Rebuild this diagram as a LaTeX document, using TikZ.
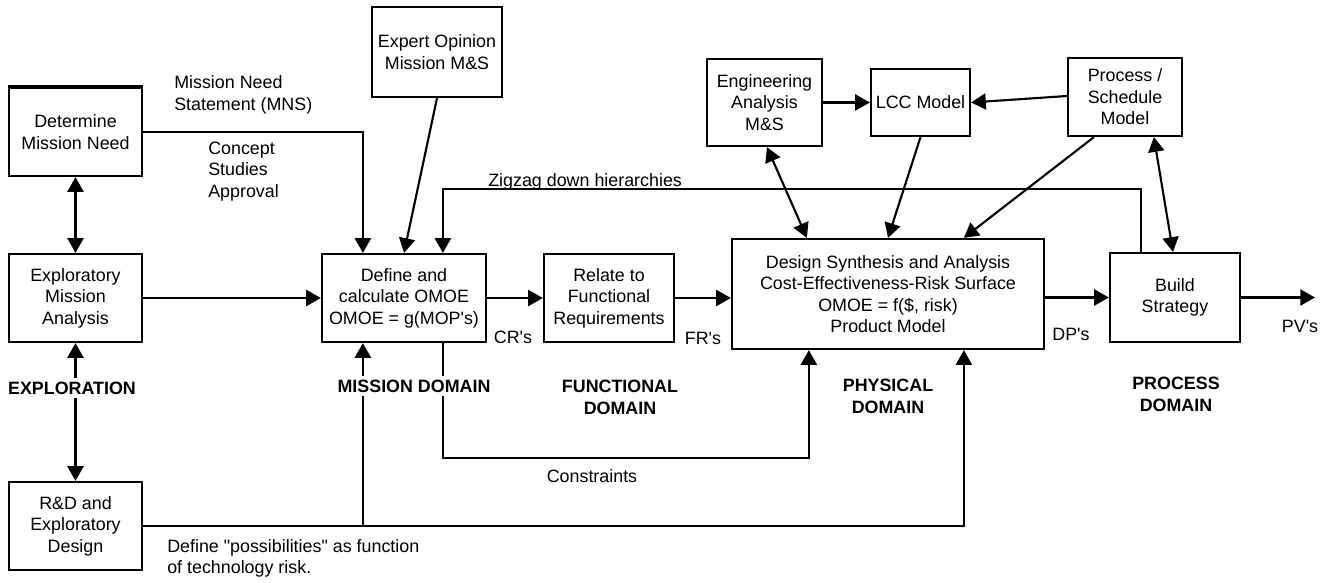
\documentclass[tikz,border=0pt]{standalone}
\usepackage{fontspec}
\setmainfont{Liberation Sans}
\usetikzlibrary{arrows.meta,calc}
\newcommand\ap{\textquotesingle}
\begin{document}
\begin{tikzpicture}[x=0.75pt,y=-0.75pt,
  font=\fontsize{13.4pt}{16.1pt}\selectfont,
  box/.style={draw,line width=1.7pt,inner sep=0pt,align=center},
  ln/.style={line width=1.6pt},
  arr/.style={ln,-{Triangle[length=11pt,width=12pt]}},
  dbl/.style={ln,{Triangle[length=11pt,width=12pt]}-{Triangle[length=11pt,width=12pt]}},
  lbl/.style={inner sep=0pt,align=left},
  dom/.style={font=\fontsize{13.4pt}{16.5pt}\selectfont\bfseries,align=center,fill=white,inner sep=3pt}]
\useasboundingbox (0,0) rectangle (1328,582);

% boxes
\node[box,minimum width=99.75pt,minimum height=66pt] (dmn) at (75.5,132) {Determine\\Mission Need};
\node[box,minimum width=99.75pt,minimum height=66pt] (ema) at (75.5,298) {Exploratory\\Mission\\Analysis};
\node[box,minimum width=99.75pt,minimum height=66pt] (rnd) at (75.5,526) {R\&D and\\Exploratory\\Design};
\node[box,minimum width=97.5pt,minimum height=67.5pt] (exp) at (437,52) {Expert Opinion\\Mission M\&S};
\node[box,minimum width=123pt,minimum height=66pt] (def) at (404,298) {Define and\\calculate OMOE\\OMOE = g(MOP\ap s)};
\node[box,minimum width=97.5pt,minimum height=66pt] (rel) at (609,298) {Relate to\\Functional\\Requirements};
\node[box,minimum width=234pt,minimum height=82.5pt] (des) at (888,294) {Design Synthesis and Analysis\\Cost-Effectiveness-Risk Surface\\OMOE = f(\$, risk)\\Product Model};
\node[box,minimum width=97.5pt,minimum height=66.75pt] (bld) at (1175,297.5) {Build\\Strategy};
\node[box,minimum width=86.25pt,minimum height=65.25pt] (eng) at (764.5,102.5) {Engineering\\Analysis\\M\&S};
\node[box,minimum width=74.25pt,minimum height=50.25pt] (lcc) at (920.5,102.5) {LCC Model};
\node[box,minimum width=85.5pt,minimum height=58.5pt] (prc) at (1125,97) {Process /\\Schedule\\Model};
\draw[line width=3pt] (dmn.north west) -- (dmn.north east);

\coordinate (pv) at (1315,297.5);

% connectors
\draw[dbl] (dmn.south) -- (ema.north);
\draw[dbl] (ema.south) -- (rnd.north);
\draw[arr] (dmn.east) -| ($(def.north west)+(42,0)$);
\draw[arr] (exp.south) -- (def.north);
\draw[arr] ($(bld.north west)+(32,0)$) -- ($(bld.north west)+(32,-63)$) -| ($(def.north west)+(122,0)$);
\draw[arr] (ema.east) -- (def.west);
\draw[arr] (def.east) -- (rel.west);
\draw[arr] (rel.east) -- (des.west |- rel.east);
\draw[arr] (des.east |- bld.west) -- (bld.west);
\draw[arr] (bld.east) -- (pv);
\draw[arr] (eng.east) -- (lcc.west);
\draw[arr] ($(prc.west)+(0,-1)$) -- (lcc.east);
\draw[dbl] ($(eng.south)+(2.5,0)$) -- ($(des.north west)+(76,0)$);
\draw[arr] (lcc.south) -- (des.north);
\draw[arr] ($(prc.south west)+(27,0)$) -- ($(des.north west)+(233,0)$);
\draw[dbl] ($(prc.south west)+(87,0)$) -- ($(bld.north)+(-2,0)$);
\draw[arr] ($(def.south west)+(122,0)$) -- ($(def.south west)+(122,115)$) -| ($(des.south west)+(78,0)$);
\draw[arr] (rnd.east) -| ($(des.south west)+(233,0)$);
\draw[arr] (rnd.east -| def.south west) ++(42,0) coordinate (rj) -- ($(def.south west)+(42,0)$);

% labels
\node[lbl,anchor=west] (lmns) at (174,95) {Mission Need\\Statement (MNS)};
\node[lbl,anchor=west] (lcsa) at (208,171.5) {Concept\\Studies\\Approval};
\node[lbl,anchor=base west] (lzig) at (488,186) {Zigzag down hierarchies};
\node[lbl] (lcr) at (513,337) {CR\ap s};
\node[lbl] (lfr) at (703,338) {FR\ap s};
\node[lbl] (ldp) at (1071,334) {DP\ap s};
\node[lbl] (lpv) at (1300,326) {PV\ap s};
\node[lbl] (lcon) at (592,476) {Constraints};
\node[lbl,anchor=west] (lpos) at (167,558.5) {Define \textquotedbl possibilities\textquotedbl{} as function\\of technology risk.};
\node[dom] (dexp) at (72,388) {EXPLORATION};
\node[dom] (dmis) at (414,386) {MISSION DOMAIN};
\node[dom,fill=none] (dfun) at (620,397) {FUNCTIONAL\\DOMAIN};
\node[dom,fill=none] (dphy) at (888,396) {PHYSICAL\\DOMAIN};
\node[dom,fill=none] (dpro) at (1176,394) {PROCESS\\DOMAIN};
\end{tikzpicture}
\end{document}
